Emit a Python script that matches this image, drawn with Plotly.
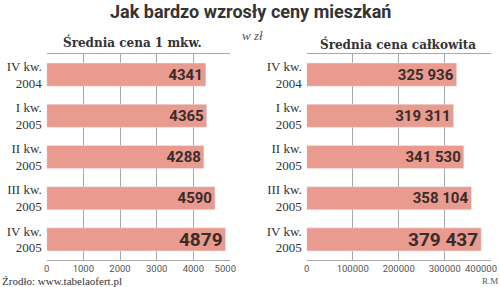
import plotly.graph_objects as go

categories = ["IV kw.<br>2004", "I kw.<br>2005", "II kw.<br>2005", "III kw.<br>2005", "IV kw.<br>2005"]
price_m2 = [4341, 4365, 4288, 4590, 4879]
price_total = [325936, 319311, 341530, 358104, 379437]
label_sizes = [15, 15, 15, 15, 19]
ticks_m2 = [0, 1000, 2000, 3000, 4000, 5000]
ticks_total = [0, 100000, 200000, 300000, 400000]

def fmt_space(v):
    return f"{v:,}".replace(",", " ")

bar_color = "#E89B8E"
text_color = "#3a2c2c"
grid_color = "#a8a8a8"
tick_font = dict(family="Roboto", size=9.5, color="#555")

fig = go.Figure()
fig.add_trace(go.Bar(
    x=price_m2, y=categories, orientation="h", marker_color=bar_color,
    text=[str(v) for v in price_m2], textposition="inside", insidetextanchor="end",
    textfont=dict(family="Roboto", size=label_sizes, color=text_color, weight="bold"),
    constraintext="none", xaxis="x", yaxis="y", hoverinfo="skip", cliponaxis=False,
))
fig.add_trace(go.Bar(
    x=price_total, y=categories, orientation="h", marker_color=bar_color,
    text=[fmt_space(v) for v in price_total], textposition="inside", insidetextanchor="end",
    textfont=dict(family="Roboto", size=label_sizes, color=text_color, weight="bold"),
    constraintext="none", xaxis="x2", yaxis="y2", hoverinfo="skip", cliponaxis=False,
))

H = 287.0
ydom = [1 - 260 / H, 1 - 54 / H]
xaxis_common = dict(showgrid=True, gridcolor=grid_color, gridwidth=1, showline=True,
                    linecolor=grid_color, mirror=True, zeroline=False, ticks="",
                    automargin=False, tickmode="array", ticklabeloverflow="allow",
                    tickfont=tick_font, fixedrange=True)
yaxis_common = dict(autorange="reversed", showgrid=False, showline=False, ticks="",
                    automargin=False,
                    tickfont=dict(family="Liberation Serif", size=13, color="#333"),
                    domain=ydom, fixedrange=True, ticklabelstandoff=4)

def ann(text, xpx, ypx, family, size, color, xanchor="center"):
    return dict(text=text, x=xpx / 500, y=1 - ypx / H, xref="paper", yref="paper",
                xanchor=xanchor, yanchor="middle", showarrow=False,
                font=dict(family=family, size=size, color=color))

m2_text = [str(v) for v in ticks_m2]
m2_text[-1] = m2_text[-1] + "&nbsp;" * 4
total_text = [str(v) for v in ticks_total]
last_total = total_text[-1]
total_text[-1] = ""  # drawn below, nudged left to stay inside the picture

fig.update_layout(
    width=500, height=287, margin=dict(l=0, r=0, t=0, b=0, autoexpand=False),
    paper_bgcolor="white", plot_bgcolor="white", showlegend=False, bargap=0.44,
    xaxis=dict(domain=[46.7 / 500, 230 / 500], range=[0, 5000], anchor="y",
               tickvals=ticks_m2, ticktext=m2_text, **xaxis_common),
    yaxis=dict(anchor="x", **yaxis_common),
    xaxis2=dict(domain=[306.7 / 500, 490.7 / 500], range=[0, 400000], anchor="y2",
                tickvals=ticks_total, ticktext=total_text, **xaxis_common),
    yaxis2=dict(anchor="x2", **yaxis_common),
    annotations=[
        ann("<b>Jak bardzo wzrosły ceny mieszkań</b>", 250, 12, "Roboto", 18, "#333"),
        ann("<i>w zł</i>", 252, 35, "Liberation Serif", 13, "#555"),
        ann("<b>Średnia cena 1 mkw.</b>", 132, 42, "DejaVu Serif", 12, "#333"),
        ann("<b>Średnia cena całkowita</b>", 398, 44, "DejaVu Serif", 12, "#333"),
        ann("Źrodło: www.tabelaofert.pl", 0, 281, "Liberation Serif", 11, "#333", "left"),
        ann("R.M", 500, 281, "Liberation Serif", 9, "#555", "right"),
        dict(text=last_total, x=ticks_total[-1], xref="x2", xanchor="right", xshift=8,
             y=1 - 268 / H, yref="paper", yanchor="middle", showarrow=False,
             font=tick_font),
    ],
)

fig.write_html("out.html")
